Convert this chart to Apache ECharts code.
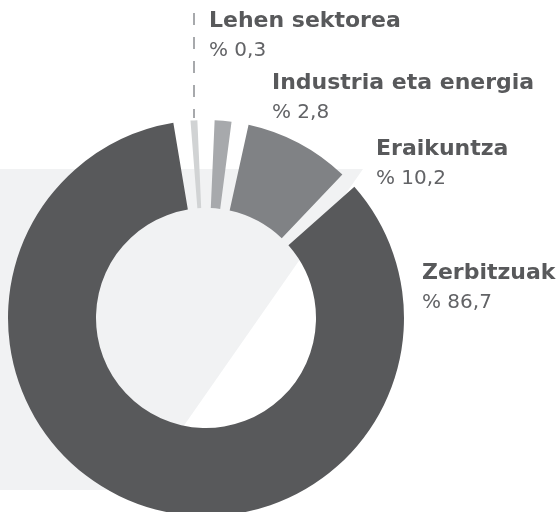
<!DOCTYPE html>
<html>
<head>
<meta charset="utf-8">
<script src="https://cdn.jsdelivr.net/npm/echarts@6/dist/echarts.min.js"></script>
<style>
  html, body { margin: 0; padding: 0; background: #fff; }
  #chart { width: 559px; height: 512px; }
</style>
</head>
<body>
<div id="chart"></div>
<script>
// sektoreak eta ehunekoak
const sectors = ['Lehen sektorea', 'Industria eta energia', 'Eraikuntza', 'Zerbitzuak'];
const shares = [0.3, 2.8, 10.2, 86.7];
const colors = ['#d1d3d4', '#a7a9ac', '#808285', '#58595b'];
// label top-left corners (px)
const labelPos = [[209, 6], [272, 68], [376, 134], [422, 258]];

window.addEventListener('load', function () {
    let chart = echarts.init(document.getElementById('chart'));

    let pieData = sectors.map(function (name, i) {
        return { name: name, value: shares[i], itemStyle: { color: colors[i] } };
    });

    chart.setOption({
        animation: false,
        graphic: [
            {
                type: 'polygon',
                z: 0,
                shape: { points: [[0, 169], [363, 169], [139, 490], [0, 490]] },
                style: { fill: '#f1f2f3' }
            },
            {
                type: 'line',
                z: 0,
                shape: { x1: 194, y1: 13, x2: 194, y2: 118 },
                style: { stroke: '#a7a9ac', lineWidth: 2, lineDash: [12, 12] }
            }
        ],
        series: [{
            type: 'pie',
            center: [206, 318],
            radius: [110, 198],
            startAngle: 97,
            clockwise: true,
            padAngle: 5,
            minAngle: 2,
            avoidLabelOverlap: false,
            emphasis: { disabled: true },
            data: pieData,
            label: {
                show: true,
                position: 'outside',
                formatter: function (p) {
                    return '{n|' + p.name + '}\n{v|% ' + String(p.value).replace('.', ',') + '}';
                },
                rich: {
                    n: {
                        fontFamily: 'DejaVu Sans',
                        fontWeight: 'bold',
                        fontSize: 22,
                        lineHeight: 30,
                        color: '#58595b'
                    },
                    v: {
                        fontFamily: 'DejaVu Sans',
                        fontSize: 20,
                        lineHeight: 30,
                        color: '#626366'
                    }
                }
            },
            labelLine: { show: false },
            labelLayout: function (params) {
                let p = labelPos[params.dataIndex];
                return { x: p[0], y: p[1], align: 'left', verticalAlign: 'top' };
            }
        }]
    });
});
</script>
</body>
</html>
